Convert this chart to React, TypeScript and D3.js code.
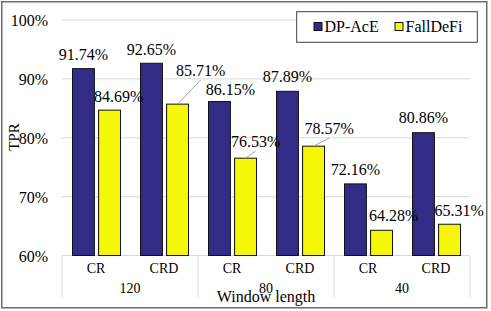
import React, { useEffect, useRef } from 'react';
import * as d3 from 'd3';

const groups = ['120', '80', '40'];
const subCats = ['CR', 'CRD'];
const seriesNames = ['DP-AcE', 'FallDeFi'];
const dpAcE = [91.74, 92.65, 86.15, 87.89, 72.16, 80.86];
const fallDeFi = [84.69, 85.71, 76.53, 78.57, 64.28, 65.31];
const yTicks = [60, 70, 80, 90, 100];

const colors = ['#332c86', '#f6f608'];
// label nudges (dx, dy from bar top) and whether a leader line is drawn
const blueNudge = [[0, -8.5], [0, -8.5], [11, -7], [0, -9], [0, -9], [0, -9.5]];
const yellowNudge = [[9, -8.5], [23, -28], [10, -11], [15.5, -12], [12, -9], [9.5, -8]];
const yellowLeader = [false, true, true, true, false, false];

const FONT = '"Liberation Serif", "Times New Roman", serif';

const Chart = () => {
  const ref = useRef<SVGSVGElement>(null);

  useEffect(() => {
    const svg = d3.select(ref.current);
    svg.selectAll('*').remove();

    const left = 62, right = 470, top = 20, bottom = 255.5;

    const x0 = d3.scaleBand().domain(groups).range([left, right]);
    const x1 = d3.scaleBand().domain(subCats).range([0, x0.bandwidth()]);
    const xs = d3.scaleBand().domain(seriesNames).range([10.5, 58.5]).paddingInner(0.16);
    const y = d3.scaleLinear().domain([60, 100]).range([bottom, top]);

    svg.append('rect')
      .attr('width', 491).attr('height', 311).attr('fill', '#fff');

    // gridlines
    svg.append('g').selectAll('line')
      .data(yTicks.slice(1))
      .enter().append('line')
      .attr('x1', left).attr('x2', right)
      .attr('y1', d => y(d)).attr('y2', d => y(d))
      .attr('stroke', '#d9d9d9').attr('stroke-width', 1);

    // y tick labels
    svg.append('g').selectAll('text')
      .data(yTicks)
      .enter().append('text')
      .attr('x', 48).attr('y', d => y(d) + 6)
      .attr('text-anchor', 'end')
      .attr('font-family', FONT).attr('font-size', 16)
      .text(d => `${d}%`);

    // category axis
    svg.append('line')
      .attr('x1', left).attr('x2', right)
      .attr('y1', bottom).attr('y2', bottom)
      .attr('stroke', '#d9d9d9');
    const seps = [...groups.map(g => x0(g)!), right];
    svg.append('g').selectAll('line')
      .data(seps)
      .enter().append('line')
      .attr('x1', d => d).attr('x2', d => d)
      .attr('y1', bottom).attr('y2', 297)
      .attr('stroke', '#d9d9d9');

    const flat = groups.flatMap(g => subCats.map(c => ({ g, c })));

    svg.append('g').selectAll('text')
      .data(flat)
      .enter().append('text')
      .attr('x', d => x0(d.g)! + x1(d.c)! + x1.bandwidth() / 2)
      .attr('y', 272.7)
      .attr('text-anchor', 'middle')
      .attr('font-family', FONT).attr('font-size', 14)
      .text(d => d.c);

    svg.append('g').selectAll('text')
      .data(groups)
      .enter().append('text')
      .attr('x', d => x0(d)! + x0.bandwidth() / 2)
      .attr('y', 293.3)
      .attr('text-anchor', 'middle')
      .attr('font-family', FONT).attr('font-size', 14)
      .text(d => d);

    svg.append('text')
      .attr('x', 266).attr('y', 302)
      .attr('text-anchor', 'middle')
      .attr('font-family', FONT).attr('font-size', 16)
      .text('Window length');

    svg.append('text')
      .attr('transform', 'translate(18.5,137) rotate(-90)')
      .attr('text-anchor', 'middle')
      .attr('font-family', FONT).attr('font-size', 15)
      .text('TPR');

    // bars + labels
    const series = [dpAcE, fallDeFi];
    const nudges = [blueNudge, yellowNudge];
    series.forEach((vals, si) => {
      const name = seriesNames[si];
      const items = vals.map((v, i) => ({
        v,
        bx: x0(flat[i].g)! + x1(flat[i].c)! + xs(name)!,
        nd: nudges[si][i],
        leader: si === 1 && yellowLeader[i],
      }));
      const g = svg.append('g');
      g.selectAll('rect')
        .data(items)
        .enter().append('rect')
        .attr('x', d => d.bx)
        .attr('y', d => y(d.v))
        .attr('width', xs.bandwidth())
        .attr('height', d => bottom - y(d.v))
        .attr('fill', colors[si])
        .attr('stroke', '#111').attr('stroke-width', 1);

      g.selectAll('line')
        .data(items.filter(d => d.leader))
        .enter().append('line')
        .attr('x1', d => d.bx + xs.bandwidth() / 2)
        .attr('y1', d => y(d.v))
        .attr('x2', d => d.bx + xs.bandwidth() / 2 + d.nd[0])
        .attr('y2', d => y(d.v) + d.nd[1] + 4)
        .attr('stroke', '#a6a6a6').attr('stroke-width', 1);

      g.selectAll('text')
        .data(items)
        .enter().append('text')
        .attr('x', d => d.bx + xs.bandwidth() / 2 + d.nd[0])
        .attr('y', d => y(d.v) + d.nd[1])
        .attr('text-anchor', 'middle')
        .attr('font-family', FONT).attr('font-size', 16)
        .text(d => `${d.v.toFixed(2)}%`);
    });

    // legend
    const lg = svg.append('g');
    lg.append('rect')
      .attr('x', 296.7).attr('y', 11.7).attr('width', 180.6).attr('height', 30.6)
      .attr('fill', '#fff').attr('stroke', '#404040').attr('stroke-width', 1);
    const legX = [314, 395];
    seriesNames.forEach((n, i) => {
      lg.append('rect')
        .attr('x', legX[i]).attr('y', 22.5).attr('width', 8).attr('height', 8)
        .attr('fill', colors[i]).attr('stroke', '#111').attr('stroke-width', 1);
      lg.append('text')
        .attr('x', legX[i] + 10.5).attr('y', 32)
        .attr('font-family', FONT).attr('font-size', 16)
        .text(n);
    });

    // outer frame
    svg.append('rect')
      .attr('x', 1.75).attr('y', 1.75).attr('width', 485).attr('height', 306)
      .attr('fill', 'none').attr('stroke', '#6e6e6e').attr('stroke-width', 1.5);
  }, []);

  return (
    <svg
      ref={ref}
      width={491}
      height={311}
      style={{ position: 'absolute', left: 0, top: 0, display: 'block' }}
    />
  );
};

export default function App() {
  return <Chart />;
}
